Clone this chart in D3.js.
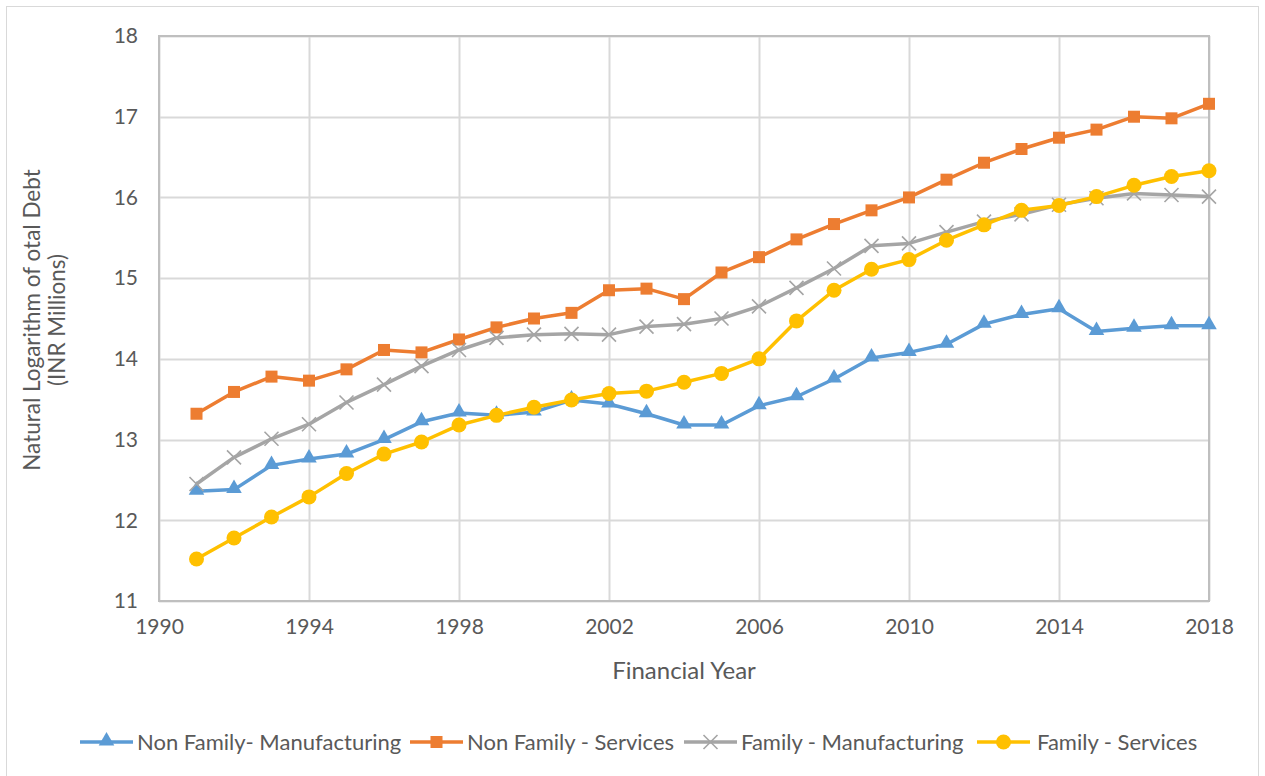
<!DOCTYPE html>
<html>
<head>
<meta charset="utf-8">
<script src="https://cdn.jsdelivr.net/npm/d3@7"></script>
<style>
  html, body { margin: 0; padding: 0; background: #fff; }
  svg { display: block; }
  text { font-family: Lato, "Open Sans", sans-serif; fill: #595959; }
</style>
</head>
<body>
<svg id="chart" width="1265" height="776"></svg>
<script>
// Financial years covered by the series
const years = d3.range(1991, 2019);

// Natural log of total debt (INR millions), by firm type and sector
const nonFamilyManufacturing = [12.36, 12.38, 12.68, 12.76, 12.82, 13.00, 13.22, 13.33, 13.30, 13.34,
  13.49, 13.44, 13.32, 13.18, 13.18, 13.42, 13.53, 13.75, 14.01, 14.08,
  14.18, 14.43, 14.55, 14.62, 14.34, 14.38, 14.41, 14.41];
const nonFamilyServices = [13.32, 13.59, 13.78, 13.73, 13.87, 14.11, 14.08, 14.24, 14.39, 14.50,
  14.57, 14.85, 14.87, 14.74, 15.07, 15.26, 15.48, 15.67, 15.84, 16.00,
  16.22, 16.43, 16.60, 16.74, 16.84, 17.00, 16.98, 17.16];
const familyManufacturing = [12.45, 12.78, 13.01, 13.19, 13.46, 13.68, 13.91, 14.11, 14.26, 14.30,
  14.31, 14.30, 14.40, 14.43, 14.50, 14.65, 14.88, 15.12, 15.40, 15.43,
  15.57, 15.70, 15.79, 15.91, 15.99, 16.05, 16.03, 16.01];
const familyServices = [11.52, 11.78, 12.04, 12.29, 12.58, 12.82, 12.97, 13.18, 13.30, 13.40,
  13.49, 13.57, 13.60, 13.71, 13.82, 14.00, 14.47, 14.85, 15.11, 15.23,
  15.47, 15.66, 15.84, 15.90, 16.01, 16.15, 16.26, 16.33];

const seriesNames = ["Non Family- Manufacturing", "Non Family - Services", "Family - Manufacturing", "Family - Services"];
const seriesColors = ["#5b9bd5", "#ed7d31", "#a5a5a5", "#ffc000"];
const seriesMarkers = ["triangle", "square", "cross", "circle"];

const xTicks = [1990, 1994, 1998, 2002, 2006, 2010, 2014, 2018];
const yTicks = [11, 12, 13, 14, 15, 16, 17, 18];

const xTitle = "Financial Year";
const yTitleLines = ["Natural Logarithm of otal Debt", "(INR Millions)"];

const series = [nonFamilyManufacturing, nonFamilyServices, familyManufacturing, familyServices]
  .map((vals, i) => ({
    name: seriesNames[i],
    color: seriesColors[i],
    marker: seriesMarkers[i],
    points: vals.map((v, j) => ({ year: years[j], value: v }))
  }));

const svg = d3.select("#chart");
const W = 1265, H = 776;
const plot = { left: 159, top: 36, right: 1209, bottom: 601 };

// Outer chart border
svg.append("rect")
  .attr("x", 6.5).attr("y", 6.5)
  .attr("width", W - 13).attr("height", H - 6)
  .attr("fill", "#fff").attr("stroke", "#d9d9d9").attr("stroke-width", 1);

const x = d3.scaleLinear().domain([1990, 2018]).range([plot.left, plot.right]);
const y = d3.scaleLinear().domain([11, 18]).range([plot.bottom, plot.top]);

// Gridlines
const grid = svg.append("g");
grid.selectAll("line.h").data(yTicks).join("line")
  .attr("x1", plot.left).attr("x2", plot.right)
  .attr("y1", d => Math.round(y(d)) + 0.5).attr("y2", d => Math.round(y(d)) + 0.5)
  .attr("stroke", "#d9d9d9").attr("stroke-width", 2);
grid.selectAll("line.v").data(xTicks).join("line")
  .attr("y1", plot.top).attr("y2", plot.bottom)
  .attr("x1", d => Math.round(x(d)) + 0.5).attr("x2", d => Math.round(x(d)) + 0.5)
  .attr("stroke", "#d9d9d9").attr("stroke-width", 2);

// Plot-area frame
svg.append("rect")
  .attr("x", plot.left).attr("y", plot.top)
  .attr("width", plot.right - plot.left).attr("height", plot.bottom - plot.top)
  .attr("fill", "none").attr("stroke", "#bfbfbf").attr("stroke-width", 2);

// Axes (labels only; lines come from the frame and grid)
const xAxis = svg.append("g")
  .attr("transform", `translate(0,${plot.bottom})`)
  .call(d3.axisBottom(x).tickValues(xTicks).tickFormat(d3.format("d")).tickSize(0).tickPadding(22));
const yAxis = svg.append("g")
  .attr("transform", `translate(${plot.left},0)`)
  .call(d3.axisLeft(y).tickValues(yTicks).tickFormat(d3.format("d")).tickSize(0).tickPadding(21));
[xAxis, yAxis].forEach(a => {
  a.select(".domain").remove();
  a.selectAll("text").attr("font-size", 21).attr("fill", "#595959")
    .style("font-family", "Lato, sans-serif");
});
xAxis.selectAll("text").attr("dy", "0.5em");

// Axis titles
svg.append("text")
  .attr("x", (plot.left + plot.right) / 2).attr("y", 679)
  .attr("text-anchor", "middle").attr("font-size", 24)
  .text(xTitle);
const yTitle = svg.append("text")
  .attr("transform", "translate(40,320) rotate(-90)")
  .attr("text-anchor", "middle").attr("font-size", 22.5);
yTitle.selectAll("tspan").data(yTitleLines).join("tspan")
  .attr("x", 0).attr("dy", (d, i) => i === 0 ? "0em" : "1.12em")
  .text(d => d);

// Marker drawing
function drawMarker(g, type, color) {
  if (type === "triangle") {
    g.append("path").attr("d", d3.symbol(d3.symbolTriangle, 105)())
      .attr("transform", "translate(0,-1)").attr("fill", color);
  } else if (type === "square") {
    g.append("rect").attr("x", -6).attr("y", -6).attr("width", 12).attr("height", 12).attr("fill", color);
  } else if (type === "circle") {
    g.append("circle").attr("r", 7.5).attr("fill", color);
  } else if (type === "cross") {
    g.append("path").attr("d", "M-7,-7L7,7M-7,7L7,-7")
      .attr("stroke", color).attr("stroke-width", 1.6).attr("fill", "none");
  }
}

const line = d3.line().x(d => x(d.year)).y(d => y(d.value));

const seriesG = svg.append("g").selectAll("g").data(series).join("g");
seriesG.append("path")
  .attr("d", d => line(d.points))
  .attr("fill", "none")
  .attr("stroke", d => d.color)
  .attr("stroke-width", 3.5)
  .attr("stroke-linejoin", "round");
seriesG.each(function (s) {
  d3.select(this).selectAll("g.m").data(s.points).join("g")
    .attr("class", "m")
    .attr("transform", d => `translate(${x(d.year)},${y(d.value)})`)
    .each(function () { drawMarker(d3.select(this), s.marker, s.color); });
});

// Legend
const legendY = 742;
const legendItems = [
  { lx: 80, tx: 137 },
  { lx: 410, tx: 467 },
  { lx: 684, tx: 741 },
  { lx: 977, tx: 1037 }
];
const legend = svg.append("g");
series.forEach((s, i) => {
  const it = legendItems[i];
  const g = legend.append("g");
  g.append("line").attr("x1", it.lx).attr("x2", it.lx + 53)
    .attr("y1", legendY).attr("y2", legendY)
    .attr("stroke", s.color).attr("stroke-width", 3.5);
  const m = g.append("g").attr("transform", `translate(${it.lx + 26.5},${legendY})`);
  drawMarker(m, s.marker, s.color);
  g.append("text").attr("x", it.tx).attr("y", legendY).attr("dy", "0.35em")
    .attr("font-size", 22).text(s.name);
});
</script>
</body>
</html>
